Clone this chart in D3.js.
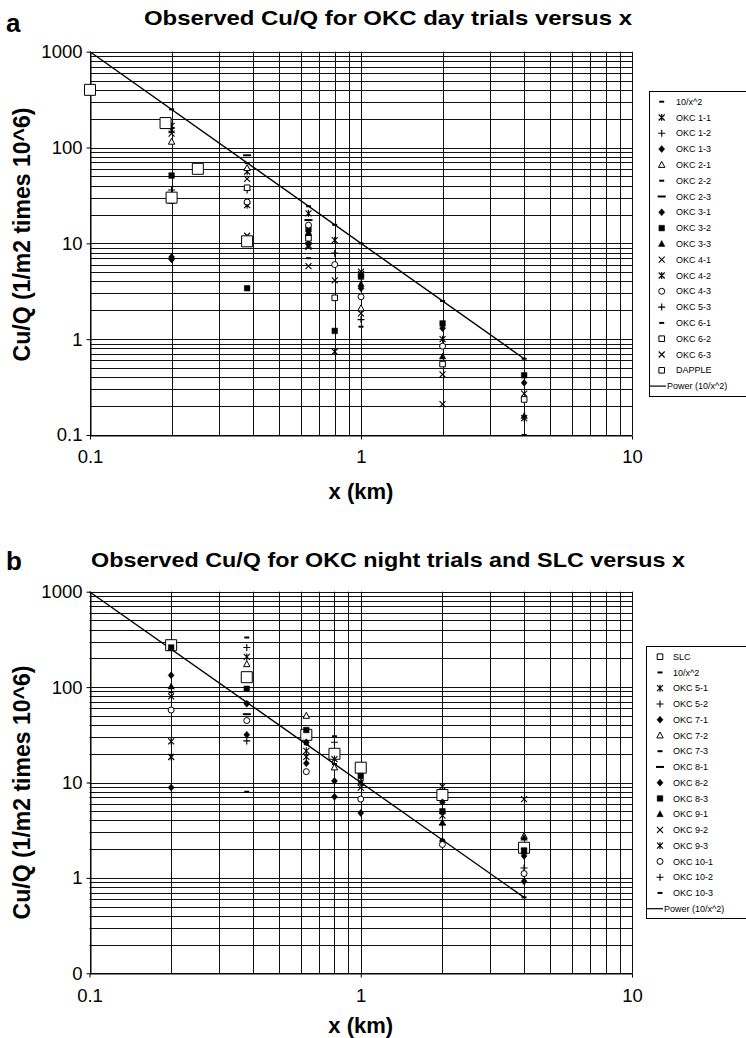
<!DOCTYPE html>
<html>
<head>
<meta charset="utf-8">
<script src="https://cdn.jsdelivr.net/npm/d3@7"></script>
<style>
body { margin: 0; background: #fff; }
text { font-family: "Liberation Sans", Arial, sans-serif; fill: #000; }
</style>
</head>
<body>
<div id="chart"></div>
<script>
"use strict";

// ---- panel a data (x in km, Cu/Q in 1/m2 times 10^6) ----
var xA = [0.2, 0.38, 0.64, 0.8, 1, 2, 4];
var a10x2  = [250, 69, 24.4, 15.6, 10, 2.5, 0.625];
var aOKC11 = [168, 56, 20.6, 10.8, 4.8, 1.0, 0.15];
var aOKC12 = [36, 36, null, 7.9, null, null, null];
var aOKC13 = [7.2, 26, 10, null, 3.4, null, 0.35];
var aOKC21 = [115, 61, null, null, 2.1, null, null];
var aOKC22 = [null, null, 7.0, null, null, null, null];
var aOKC23 = [null, 83, 17.5, null, null, null, null];
var aOKC31 = [6.8, null, null, null, null, 1.3, null];
var aOKC32 = [51, 3.4, 14, 1.22, 4.5, 1.46, 0.42];
var aOKC33 = [null, null, 13, null, 3.76, 0.66, 0.158];
var aOKC41 = [140, 47, 9.2, 4.1, 5.06, 0.43, 0.27];
var aOKC42 = [152, 25, 9.6, 0.74, null, null, null];
var aOKC43 = [null, 27, 15.5, 6.0, 2.77, 0.845, null];
var aOKC53 = [null, null, 12, null, 1.6, null, null];
var aOKC61 = [null, null, null, null, 1.35, null, 0.1];
var aOKC62 = [28, 38, 11.3, 2.7, null, 0.55, 0.235];
var aOKC63 = [null, 12, 5.8, null, 1.86, 0.21, null];
var dappleX = [0.1, 0.19, 0.25, 0.2, 0.38];
var dappleY = [400, 180, 60, 30, 10.5];

// ---- panel b data ----
var xB = [0.2, 0.38, 0.63, 0.8, 1, 2, 4];
var bSLC    = [275, 127, 31.6, 20, 14.3, 7.4, 2.07];
var b10x2   = [250, 69, 25.2, 15.6, 10, 2.5, 0.625];
var bOKC51  = [27, 207, 21.5, 17.6, 10, 4.5, 1.9];
var bOKC52  = [null, 260, null, 26.4, null, 3.6, 1.27];
var bOKC71  = [133, 67, 26.4, 10.4, 4.8, 6.2, 0.92];
var bOKC72  = [null, 174, 50, 14.4, null, null, 2.75];
var bOKC73  = [88.5, 331, null, 30.5, null, null, null];
var bOKC81  = [null, 52, null, null, null, null, null];
var bOKC82  = [8.85, 31.6, 15.9, 7.1, null, 2.43, 1.7];
var bOKC83  = [260, 96, 35.5, null, 11.7, 5.0, 1.94];
var bOKC91  = [101.6, null, null, null, null, 3.8, 2.64];
var bOKC92  = [80, null, null, null, 8.85, null, 6.7];
var bOKC93  = [18.5, null, 18.6, null, null, 9.1, null];
var bOKC101 = [57.5, 44.6, 13, null, 6.7, 2.24, 1.11];
var bOKC102 = [null, 27.3, null, null, null, null, null];
var bOKC103 = [null, 8.0, null, null, null, null, null];

// power trend line end points (10/x^2)
var powerX = [0.1, 4];
var powerY = [1000, 0.625];

// axis tick labels
var yTickValues = [0.1, 1, 10, 100, 1000];
var yLabelsA = ["0.1", "1", "10", "100", "1000"];
var yLabelsB = ["0", "1", "10", "100", "1000"];
var xTickValues = [0.1, 1, 10];
var xLabels = ["0.1", "1", "10"];

// marker shapes
var shapes = {
    dash:     {d: "M-2.5,0H2.5", fill: "none", sw: 2},
    longdash: {d: "M-4,0H4", fill: "none", sw: 2},
    ast:      {d: "M-3,-3L3,3M-3,3L3,-3M0,-3.5V3.5", fill: "none", sw: 1.1},
    plus:     {d: "M-3.5,0H3.5M0,-3.5V3.5", fill: "none", sw: 1.1},
    diamond:  {d: "M0,-3.5L3,0L0,3.5L-3,0Z", fill: "#000", sw: 0.5},
    tri:      {d: "M0,-3.5L3.2,2.5H-3.2Z", fill: "#fff", sw: 1},
    trifill:  {d: "M0,-3.5L3.2,2.5H-3.2Z", fill: "#000", sw: 0.5},
    sqfill:   {d: "M-2.8,-2.8h5.6v5.6h-5.6Z", fill: "#000", sw: 0.5},
    sq:       {d: "M-2.8,-2.8h5.6v5.6h-5.6Z", fill: "#fff", sw: 1},
    bigsq:    {d: "M-5.5,-5.5h11v11h-11Z", fill: "#fff", sw: 1},
    x:        {d: "M-3,-3L3,3M-3,3L3,-3", fill: "none", sw: 1.1},
    circle:   {d: "M3,0A3,3 0 1,1 -3,0A3,3 0 1,1 3,0Z", fill: "#fff", sw: 1}
};

var seriesA = [
    {name: "10/x^2",  xs: xA, ys: a10x2,  shape: "dash"},
    {name: "OKC 1-1", xs: xA, ys: aOKC11, shape: "ast"},
    {name: "OKC 1-2", xs: xA, ys: aOKC12, shape: "plus"},
    {name: "OKC 1-3", xs: xA, ys: aOKC13, shape: "diamond"},
    {name: "OKC 2-1", xs: xA, ys: aOKC21, shape: "tri"},
    {name: "OKC 2-2", xs: xA, ys: aOKC22, shape: "dash"},
    {name: "OKC 2-3", xs: xA, ys: aOKC23, shape: "longdash"},
    {name: "OKC 3-1", xs: xA, ys: aOKC31, shape: "diamond"},
    {name: "OKC 3-2", xs: xA, ys: aOKC32, shape: "sqfill"},
    {name: "OKC 3-3", xs: xA, ys: aOKC33, shape: "trifill"},
    {name: "OKC 4-1", xs: xA, ys: aOKC41, shape: "x"},
    {name: "OKC 4-2", xs: xA, ys: aOKC42, shape: "ast"},
    {name: "OKC 4-3", xs: xA, ys: aOKC43, shape: "circle"},
    {name: "OKC 5-3", xs: xA, ys: aOKC53, shape: "plus"},
    {name: "OKC 6-1", xs: xA, ys: aOKC61, shape: "dash"},
    {name: "OKC 6-2", xs: xA, ys: aOKC62, shape: "sq"},
    {name: "OKC 6-3", xs: xA, ys: aOKC63, shape: "x"},
    {name: "DAPPLE",  xs: dappleX, ys: dappleY, shape: "bigsq", legendShape: "sq"}
];

var seriesB = [
    {name: "SLC",      xs: xB, ys: bSLC,    shape: "bigsq", legendShape: "sq"},
    {name: "10/x^2",   xs: xB, ys: b10x2,   shape: "dash"},
    {name: "OKC 5-1",  xs: xB, ys: bOKC51,  shape: "ast"},
    {name: "OKC 5-2",  xs: xB, ys: bOKC52,  shape: "plus"},
    {name: "OKC 7-1",  xs: xB, ys: bOKC71,  shape: "diamond"},
    {name: "OKC 7-2",  xs: xB, ys: bOKC72,  shape: "tri"},
    {name: "OKC 7-3",  xs: xB, ys: bOKC73,  shape: "dash"},
    {name: "OKC 8-1",  xs: xB, ys: bOKC81,  shape: "longdash"},
    {name: "OKC 8-2",  xs: xB, ys: bOKC82,  shape: "diamond"},
    {name: "OKC 8-3",  xs: xB, ys: bOKC83,  shape: "sqfill"},
    {name: "OKC 9-1",  xs: xB, ys: bOKC91,  shape: "trifill"},
    {name: "OKC 9-2",  xs: xB, ys: bOKC92,  shape: "x"},
    {name: "OKC 9-3",  xs: xB, ys: bOKC93,  shape: "ast"},
    {name: "OKC 10-1", xs: xB, ys: bOKC101, shape: "circle"},
    {name: "OKC 10-2", xs: xB, ys: bOKC102, shape: "plus"},
    {name: "OKC 10-3", xs: xB, ys: bOKC103, shape: "dash"}
];

var svg = d3.select("#chart").append("svg").attr("width", 746).attr("height", 1038);

drawPanel({
    letter: "a", letterY: 32,
    title: "Observed Cu/Q for OKC day trials versus x", titleY: 25, titleLen: 488,
    top: 51.7, bottom: 435, left: 90, right: 632,
    yLabels: yLabelsA, yTitleY: 234.5, xTitleY: 499, xLabelPad: 10,
    series: seriesA,
    legend: {x: 649, y: 91, h: 305, row0: 101.7, step: 15.8, symX: 661.7, textX: 676}
});

drawPanel({
    letter: "b", letterY: 570,
    title: "Observed Cu/Q for OKC night trials and SLC versus x", titleY: 567, titleLen: 594,
    top: 591.7, bottom: 973.3, left: 89.5, right: 632,
    yLabels: yLabelsB, yTitleY: 792.5, xTitleY: 1033, xLabelPad: 11,
    series: seriesB,
    legend: {x: 646, y: 646, h: 272, row0: 656.7, step: 15.75, symX: 660, textX: 673}
});

function drawPanel(p) {
    var x = d3.scaleLog().domain([0.1, 10]).range([p.left, p.right]);
    var y = d3.scaleLog().domain([0.1, 1000]).range([p.bottom, p.top]);
    var g = svg.append("g");

    // gridlines on every major and minor log tick
    g.append("g").selectAll("line").data(y.ticks()).join("line")
        .attr("x1", p.left).attr("x2", p.right)
        .attr("y1", function (d) { return Math.round(y(d)) + 0.5; })
        .attr("y2", function (d) { return Math.round(y(d)) + 0.5; })
        .attr("stroke", "#111").attr("stroke-width", 1);
    g.append("g").selectAll("line").data(x.ticks()).join("line")
        .attr("y1", p.top).attr("y2", p.bottom)
        .attr("x1", function (d) { return Math.round(x(d)) + 0.5; })
        .attr("x2", function (d) { return Math.round(x(d)) + 0.5; })
        .attr("stroke", "#111").attr("stroke-width", 1);

    // axes
    var yAxis = g.append("g").attr("transform", "translate(" + (Math.round(p.left) + 0.5) + ",0)")
        .call(d3.axisLeft(y).tickValues(yTickValues)
            .tickFormat(function (d, i) { return p.yLabels[i]; })
            .tickSize(4).tickSizeOuter(0).tickPadding(4));
    var xAxis = g.append("g").attr("transform", "translate(0," + (Math.round(p.bottom) + 0.5) + ")")
        .call(d3.axisBottom(x).tickValues(xTickValues)
            .tickFormat(function (d, i) { return xLabels[i]; })
            .tickSize(4).tickSizeOuter(0).tickPadding(p.xLabelPad));
    [yAxis, xAxis].forEach(function (a) {
        a.attr("font-family", null).attr("font-size", null);
        a.selectAll("text").style("font-size", "18.5px");
        a.selectAll("line, path").attr("stroke", "#000");
    });

    // power trend line
    g.append("path")
        .datum(powerX.map(function (v, i) { return [v, powerY[i]]; }))
        .attr("d", d3.line().x(function (d) { return x(d[0]); }).y(function (d) { return y(d[1]); }))
        .attr("fill", "none").attr("stroke", "#000").attr("stroke-width", 1.4);

    // markers
    p.series.forEach(function (s) {
        var pts = [];
        s.ys.forEach(function (v, i) { if (v != null) pts.push([s.xs[i], v]); });
        var sh = shapes[s.shape];
        g.append("g").selectAll("path").data(pts).join("path")
            .attr("transform", function (d) { return "translate(" + x(d[0]) + "," + y(d[1]) + ")"; })
            .attr("d", sh.d)
            .attr("fill", sh.fill).attr("stroke", "#000").attr("stroke-width", sh.sw);
    });

    // titles
    svg.append("text").attr("x", 6).attr("y", p.letterY)
        .style("font-size", "26px").style("font-weight", "bold").text(p.letter);
    svg.append("text").attr("x", 388).attr("y", p.titleY)
        .attr("text-anchor", "middle")
        .attr("textLength", p.titleLen).attr("lengthAdjust", "spacingAndGlyphs")
        .style("font-size", "21px").style("font-weight", "bold").text(p.title);
    svg.append("text").attr("x", (p.left + p.right) / 2).attr("y", p.xTitleY)
        .attr("text-anchor", "middle")
        .style("font-size", "22px").style("font-weight", "bold").text("x (km)");
    svg.append("text").attr("transform", "translate(30," + p.yTitleY + ") rotate(-90)")
        .attr("text-anchor", "middle")
        .style("font-size", "23px").style("font-weight", "bold").text("Cu/Q (1/m2 times 10^6)");

    // legend
    var L = p.legend;
    var lg = svg.append("g");
    lg.append("rect").attr("x", L.x + 0.5).attr("y", L.y + 0.5).attr("width", 120).attr("height", L.h)
        .attr("fill", "#fff").attr("stroke", "#000").attr("stroke-width", 1);
    var rows = p.series.concat([{name: "Power (10/x^2)", line: true}]);
    rows.forEach(function (s, i) {
        var ry = L.row0 + i * L.step;
        if (s.line) {
            lg.append("line").attr("x1", L.x).attr("x2", L.x + 17).attr("y1", ry).attr("y2", ry)
                .attr("stroke", "#000").attr("stroke-width", 1.2);
            lg.append("text").attr("x", L.x + 18).attr("y", ry).attr("dy", "0.35em")
                .style("font-size", "9px").text(s.name);
        } else {
            var sh = shapes[s.legendShape || s.shape];
            lg.append("path").attr("transform", "translate(" + L.symX + "," + ry + ")")
                .attr("d", sh.d).attr("fill", sh.fill).attr("stroke", "#000").attr("stroke-width", sh.sw);
            lg.append("text").attr("x", L.textX).attr("y", ry).attr("dy", "0.35em")
                .style("font-size", "9px").text(s.name);
        }
    });
}
</script>
</body>
</html>
